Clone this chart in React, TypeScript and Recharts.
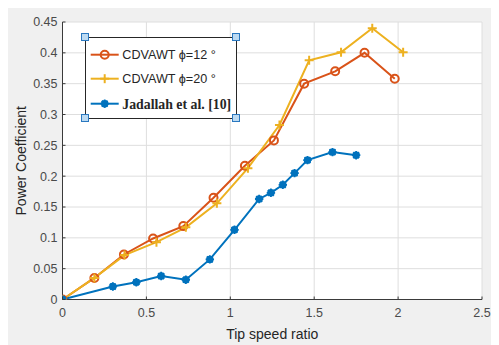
import React from "react";
import { LineChart, Line, XAxis, YAxis, CartesianGrid, Legend, Label } from "recharts";

// Tip speed ratio (x) and power coefficient (y) for each series
const tsr12 = [0, 0.19, 0.366, 0.54, 0.72, 0.9, 1.087, 1.26, 1.44, 1.625, 1.8, 1.98];
const cp12 = [0, 0.035, 0.073, 0.099, 0.119, 0.165, 0.217, 0.258, 0.35, 0.37, 0.4, 0.358];

const tsr20 = [0, 0.19, 0.37, 0.56, 0.735, 0.92, 1.105, 1.293, 1.47, 1.66, 1.846, 2.03];
const cp20 = [0, 0.035, 0.072, 0.093, 0.117, 0.156, 0.213, 0.283, 0.388, 0.401, 0.44, 0.401];

const tsrRef = [0, 0.3, 0.44, 0.588, 0.735, 0.878, 1.025, 1.172, 1.242, 1.313, 1.383, 1.46, 1.609, 1.75];
const cpRef = [0, 0.021, 0.028, 0.038, 0.032, 0.065, 0.113, 0.163, 0.173, 0.186, 0.205, 0.226, 0.239, 0.234];

const xTicks = [0, 0.5, 1, 1.5, 2, 2.5];
const yTicks = [0, 0.05, 0.1, 0.15, 0.2, 0.25, 0.3, 0.35, 0.4, 0.45];

const seriesNames = ["CDVAWT \u03d5=12 \u00b0", "CDVAWT \u03d5=20 \u00b0", "Jadallah et al. [10]"];
const xTitle = "Tip speed ratio";
const yTitle = "Power Coefficient";

const ORANGE = "#D95319";
const YELLOW = "#EDB120";
const BLUE = "#0072BD";
const AXIS = "#3a3a3a";
const TICK_TEXT = "#4a4a4a";
const FONT = "'Liberation Sans', Arial, Helvetica, sans-serif";

const X_TICK_GAP = 8;
const Y_TICK_GAP = 5;

const toPoints = (xs: number[], ys: number[]) => xs.map((x, i) => ({ x, y: ys[i] }));

const data12 = toPoints(tsr12, cp12);
const data20 = toPoints(tsr20, cp20);
const dataRef = toPoints(tsrRef, cpRef);

const CircleDot = (props: any) => {
  const { cx, cy } = props;
  if (cx == null || cy == null) return null;
  return <circle cx={cx} cy={cy} r={4} fill="none" stroke={ORANGE} strokeWidth={2} />;
};

const PlusDot = (props: any) => {
  const { cx, cy } = props;
  if (cx == null || cy == null) return null;
  const s = 4.5;
  return (
    <g stroke={YELLOW} strokeWidth={2}>
      <line x1={cx - s} y1={cy} x2={cx + s} y2={cy} />
      <line x1={cx} y1={cy - s} x2={cx} y2={cy + s} />
    </g>
  );
};

const StarDot = (props: any) => {
  const { cx, cy } = props;
  if (cx == null || cy == null) return null;
  const s = 4.2;
  const d = s * 0.7;
  return (
    <g stroke={BLUE} strokeWidth={1.8}>
      <circle cx={cx} cy={cy} r={3.7} fill={BLUE} stroke="none" />
      <line x1={cx - s} y1={cy} x2={cx + s} y2={cy} />
      <line x1={cx} y1={cy - s} x2={cx} y2={cy + s} />
      <line x1={cx - d} y1={cy - d} x2={cx + d} y2={cy + d} />
      <line x1={cx - d} y1={cy + d} x2={cx + d} y2={cy - d} />
    </g>
  );
};

// tick labels with short inward tick marks on the axis line
const YTick = (props: any) => {
  const { x, y, payload } = props;
  const ax = x + Y_TICK_GAP;
  return (
    <g>
      <line x1={ax} y1={y} x2={ax + 3} y2={y} stroke={AXIS} strokeWidth={1} />
      <text x={x} y={y} dy="0.35em" textAnchor="end" fill={TICK_TEXT} fontSize={12.5} fontFamily={FONT}>
        {payload.value}
      </text>
    </g>
  );
};

const XTick = (props: any) => {
  const { x, y, payload } = props;
  const ay = y - X_TICK_GAP;
  return (
    <g>
      <line x1={x} y1={ay} x2={x} y2={ay - 3} stroke={AXIS} strokeWidth={1} />
      <text x={x} y={y} dy="0.72em" textAnchor="middle" fill={TICK_TEXT} fontSize={12.5} fontFamily={FONT}>
        {payload.value}
      </text>
    </g>
  );
};

const XTitle = (props: any) => {
  const { viewBox } = props;
  return (
    <text
      x={viewBox.x + viewBox.width / 2}
      y={viewBox.y + 39}
      textAnchor="middle"
      fill="#262626"
      fontSize={14}
      fontFamily={FONT}
    >
      {xTitle}
    </text>
  );
};

const YTitle = (props: any) => {
  const { viewBox } = props;
  const x = viewBox.x + 3;
  const y = viewBox.y + viewBox.height / 2;
  return (
    <text
      x={x}
      y={y}
      transform={`rotate(-90, ${x}, ${y})`}
      textAnchor="middle"
      fill="#262626"
      fontSize={14}
      fontFamily={FONT}
    >
      {yTitle}
    </text>
  );
};

const legendIcons = [
  (cx: number, cy: number) => (
    <g>
      <line x1={cx - 14} y1={cy} x2={cx + 14} y2={cy} stroke={ORANGE} strokeWidth={2} />
      <CircleDot cx={cx} cy={cy} />
    </g>
  ),
  (cx: number, cy: number) => (
    <g>
      <line x1={cx - 14} y1={cy} x2={cx + 14} y2={cy} stroke={YELLOW} strokeWidth={2} />
      <PlusDot cx={cx} cy={cy} />
    </g>
  ),
  (cx: number, cy: number) => (
    <g>
      <line x1={cx - 14} y1={cy} x2={cx + 14} y2={cy} stroke={BLUE} strokeWidth={2} />
      <StarDot cx={cx} cy={cy} />
    </g>
  ),
];

const Handle = ({ left, top }: { left: number; top: number }) => (
  <div
    style={{
      position: "absolute",
      left: left - 4,
      top: top - 4,
      width: 6,
      height: 6,
      background: "#bcdaf2",
      border: "1px solid #2a78c0",
    }}
  />
);

const LegendBox = (props: any) => {
  const items = props.payload || [];
  const rowY = [17.7, 41.7, 66.7];
  const W = 152;
  const H = 82;
  return (
    <div style={{ position: "relative", width: W, height: H }}>
      <div
        style={{
          position: "absolute",
          left: 0,
          top: 0,
          width: W - 2,
          height: H - 2,
          border: "1px solid #262626",
          background: "#ffffff",
        }}
      />
      <svg width={W} height={H} style={{ position: "absolute", left: 0, top: 0 }}>
        {items.map((item: any, i: number) => (
          <g key={item.value}>
            {legendIcons[i](19.7, rowY[i])}
            <text
              x={37.3}
              y={rowY[i]}
              dy="0.36em"
              fill="#262626"
              fontSize={i === 2 ? 13.8 : 12.6}
              fontWeight={i === 2 ? "bold" : "normal"}
              fontFamily={i === 2 ? "'Liberation Serif', 'Times New Roman', serif" : FONT}
            >
              {item.value}
            </text>
          </g>
        ))}
      </svg>
      <Handle left={0} top={0} />
      <Handle left={W - 1} top={0} />
      <Handle left={0} top={H - 1} />
      <Handle left={W - 1} top={H - 1} />
    </div>
  );
};

export default function App() {
  return (
    <div style={{ width: 491, height: 337, background: "#f0f0f0" }}>
      <LineChart
        width={491}
        height={337}
        margin={{ top: 14, right: 17, bottom: 0, left: 14.5 }}
        style={{ fontFamily: FONT }}
      >
        <CartesianGrid fill="#ffffff" stroke="#dedede" strokeWidth={1} horizontalValues={yTicks} verticalValues={xTicks} />
        <XAxis
          type="number"
          dataKey="x"
          domain={[0, 2.5]}
          ticks={xTicks}
          interval={0}
          height={45.5}
          tickSize={0}
          tickMargin={X_TICK_GAP}
          tickLine={false}
          stroke={AXIS}
          tick={<XTick />}
          allowDataOverflow
        >
          <Label content={<XTitle />} />
        </XAxis>
        <YAxis
          type="number"
          dataKey="y"
          domain={[0, 0.45]}
          ticks={yTicks}
          interval={0}
          width={40}
          tickSize={0}
          tickMargin={Y_TICK_GAP}
          tickLine={false}
          stroke={AXIS}
          tick={<YTick />}
          allowDataOverflow
        >
          <Label content={<YTitle />} />
        </YAxis>
        <Legend
          layout="vertical"
          align="center"
          verticalAlign="middle"
          content={<LegendBox />}
          wrapperStyle={{ left: 77, top: 29, width: 152, height: 82 }}
        />
        <Line
          data={data12}
          dataKey="y"
          name={seriesNames[0]}
          stroke={ORANGE}
          strokeWidth={2}
          dot={<CircleDot />}
          activeDot={false}
          isAnimationActive={false}
        />
        <Line
          data={data20}
          dataKey="y"
          name={seriesNames[1]}
          stroke={YELLOW}
          strokeWidth={2}
          dot={<PlusDot />}
          activeDot={false}
          isAnimationActive={false}
        />
        <Line
          data={dataRef}
          dataKey="y"
          name={seriesNames[2]}
          stroke={BLUE}
          strokeWidth={2}
          dot={<StarDot />}
          activeDot={false}
          isAnimationActive={false}
        />
      </LineChart>
    </div>
  );
}
